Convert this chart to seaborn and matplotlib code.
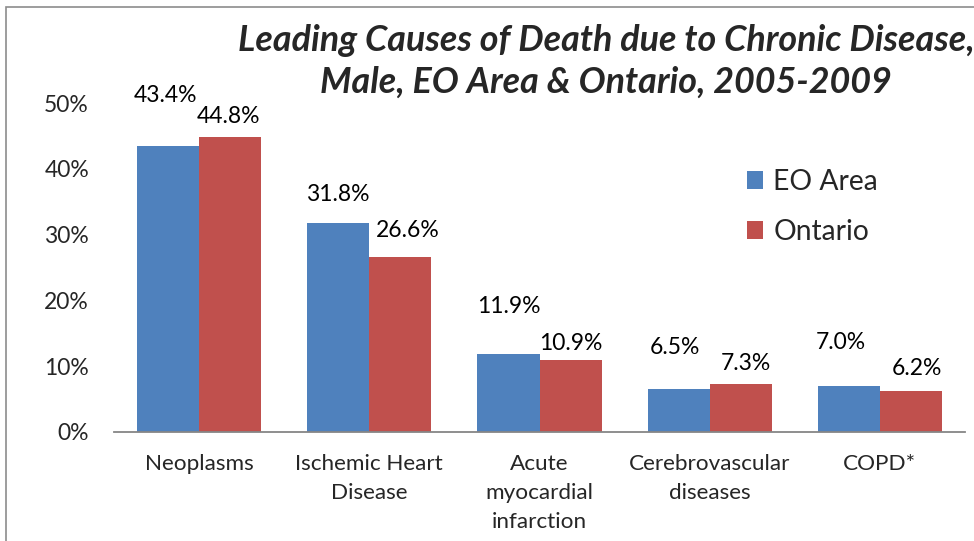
import pandas as pd
import matplotlib
matplotlib.use("Agg")
import matplotlib.pyplot as plt
from matplotlib.patches import Rectangle
from matplotlib.ticker import PercentFormatter
import seaborn as sns

# --- chart data ---
causes = ["Neoplasms", "Ischemic Heart\nDisease", "Acute\nmyocardial\ninfarction",
          "Cerebrovascular\ndiseases", "COPD*"]
eo_area = [43.4, 31.8, 11.9, 6.5, 7.0]
ontario = [44.8, 26.6, 10.9, 7.3, 6.2]
regions = ["EO Area", "Ontario"]
colors = ["#4F81BD", "#C0504D"]
title_text = "Leading Causes of Death due to Chronic Disease,\nMale, EO Area & Ontario, 2005-2009"

# label offsets above each bar (points), Excel put them a bit all over the place
label_dy = [[37, 20, 34, 30, 31], [15, 19, 12, 15, 16]]
label_dx = [[-2, 0, 0, -3, -6], [-1, 5, 0, 4, 4]]

df = pd.DataFrame({
    "cause": causes * 2,
    "pct": eo_area + ontario,
    "region": [regions[0]] * len(causes) + [regions[1]] * len(causes),
})

sns.set_style("white")
plt.rcParams["font.family"] = ["Lato", "DejaVu Sans"]

fig = plt.figure(figsize=(9.74, 5.41), dpi=100)
ax = fig.add_axes([114 / 974, 109 / 541, 851 / 974, 329 / 541])

sns.barplot(data=df, x="cause", y="pct", hue="region", palette=colors,
            width=0.73, saturation=1, ax=ax, edgecolor="none")

ax.set_ylim(0, 50)
ax.set_xlim(-0.5, 4.5)
ax.set_yticks(range(0, 51, 10))
ax.yaxis.set_major_formatter(PercentFormatter(decimals=0))
ax.set_xlabel("")
ax.set_ylabel("")
ax.tick_params(axis="y", labelsize=16.5, length=0, pad=18)
ax.tick_params(axis="x", labelsize=16.2, length=0, pad=16)
for lbl in ax.get_xticklabels():
    lbl.set_linespacing(1.55)
    lbl.set_verticalalignment("top")

for side in ["left", "right", "top"]:
    ax.spines[side].set_visible(False)
ax.spines["bottom"].set_color("#868686")
ax.spines["bottom"].set_linewidth(1.3)

# data labels
for i, cont in enumerate(ax.containers):
    for j, bar in enumerate(cont):
        h = bar.get_height()
        ax.annotate(f"{h:.1f}%", (bar.get_x() + bar.get_width() / 2, h),
                    xytext=(label_dx[i][j], label_dy[i][j]), textcoords="offset points",
                    ha="center", va="center", fontsize=16.5, color="black")

leg = ax.legend(loc="upper left", bbox_to_anchor=(0.73, 0.835), frameon=False,
                fontsize=20.3, handlelength=0.6, handleheight=0.6,
                handletextpad=0.35, labelspacing=0.88, borderaxespad=0)

fig.text(606 / 974, 1 - 61.5 / 541, title_text, ha="center", va="center",
         fontsize=25.8, fontweight="bold", fontstyle="italic", linespacing=1.33)

# outer chart frame, clipped at the right and bottom like in the original
fig.patches.append(Rectangle((6 / 974, -0.1), 1.2, 1 - 7 / 541 + 0.1,
                             transform=fig.transFigure, fill=False,
                             edgecolor="#8C8C8C", linewidth=1.2))

fig.savefig("out.png", dpi=100)
